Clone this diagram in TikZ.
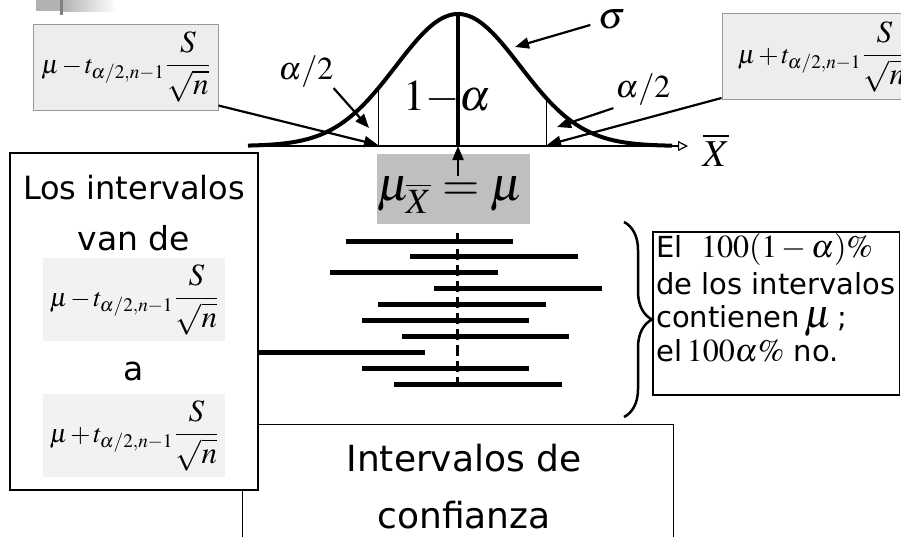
\documentclass[tikz,border=0pt]{standalone}
\usepackage{mathptmx}
\usepackage{fontspec}
\setsansfont{DejaVu Sans}
\usetikzlibrary{arrows.meta,decorations.pathreplacing,calc}
\newcommand\fsz[1]{\fontsize{#1}{#1}\selectfont}
\newcommand\lowform{{\fsz{26}\medmuskip=2mu$\mu-t_{\alpha/2,n-1}$}\,{\fsz{31}$\displaystyle\frac{S}{\sqrt{n}}$}}
\newcommand\uppform{{\fsz{26}\medmuskip=2mu$\mu+t_{\alpha/2,n-1}$}\,{\fsz{31}$\displaystyle\frac{S}{\sqrt{n}}$}}
\begin{document}
\begin{tikzpicture}[x=1pt,y=-1pt,
  curvestyle/.style={line width=4pt},
  arr/.style={line width=2.2pt,-{Triangle[length=14pt,width=11pt]}},
  fbox/.style={draw=black!40,fill=black!7,line width=1pt,minimum width=185pt,minimum height=86pt,inner sep=0pt},
  ibox/.style={fill=black!5,minimum width=182pt,minimum height=83pt,inner sep=0pt},
  bar/.style={line width=5pt},
  txt/.style={font=\sffamily, inner sep=0pt},
  plainbox/.style={draw=black,line width=1.3pt,fill=white},
  mlabel/.style={inner sep=0pt},
]
\useasboundingbox (0,0) rectangle (901,536);
\clip (0,0) rectangle (901,536);
% top-left decoration
\fill[black!30] (36,0) rectangle (62,11);
\shade[left color=black!30,right color=white] (62,0) rectangle (116,11);
\fill[black!50] (60,0) rectangle (63,15);

% bottom box
\node[plainbox,minimum width=431pt,minimum height=130pt,anchor=north west] (bot) at (242,424) {};
\node[txt,anchor=base,font=\sffamily\fsz{36}] (bt1) at (464,471) {Intervalos de};
\node[txt,anchor=base,font=\sffamily\fsz{36}] (bt2) at (464,528) {confianza};

% axis and bell curve
\draw[line width=1.2pt,-{Triangle[open,length=10pt,width=10pt]}] (250,146) -- (688,146);
\draw[line width=1pt] (378,146) -- (378,{146-132*exp(-0.5*((378-458)/62)^2)});
\draw[line width=1pt] (546,146) -- (546,{146-132*exp(-0.5*((546-458)/62)^2)});
\draw[curvestyle] plot[domain=248:672,samples=150,smooth] (\x,{146-132*exp(-0.5*((\x-458)/62)^2)});
\draw[line width=4pt] (458,14) -- (458,146);

% labels on the curve
\node[mlabel,font=\fsz{44}] (oneminus) at (447,98) {$1{-}\alpha$};
\node[mlabel,font=\fsz{32}] (la) at (306,72) {$\alpha/2$};
\node[mlabel,font=\fsz{32}] (ra) at (643,90) {$\alpha/2$};
\node[mlabel,font=\fsz{38}] (sg) at (612,20) {$\sigma$};
\node[mlabel,font=\fsz{38}] (xb) at (716,150) {$\overline{X}$};

% formula boxes
\node[fbox] (tl) at (125.5,67) {\lowform};
\node[fbox,minimum width=200pt] (tr) at (822,56.5) {\uppform};

% targets
\coordinate (lt1) at (369,128);
\coordinate (lt2) at (378,145);
\coordinate (rt1) at (557,127);
\coordinate (rt2) at (547,145);
\coordinate (st) at (515,47);
\coordinate (mustart) at (458,176);
\coordinate (mutip) at (458,146);

% mu box
\node[fill=black!25,minimum width=153pt,minimum height=70pt,inner sep=0pt] (mubox) at (453.5,189) {};
\node[mlabel,font=\fsz{48},anchor=base] (mutext) at (450,200) {$\mu_{\overline{X}}=\mu$};

% arrows
\draw[arr] (la.south east) -- (lt1);
\draw[arr] ($(tl.south east)+(0,-5)$) -- (lt2);
\draw[arr] ($(ra.south west)+(-2,2)$) -- (rt1);
\draw[arr] ($(tr.south west)+(0,-2)$) -- (rt2);
\draw[arr] ($(sg.south west)+(-8,-5)$) -- (st);
\draw[arr] (mustart) -- (mutip);

% intervals
\draw[line width=3pt,dash pattern=on 11pt off 5pt] (457.5,233) -- (457.5,384);
\draw[bar] (346,241) -- (513,241);
\draw[bar] (410,256) -- (578,256);
\draw[bar] (330,272) -- (498,272);
\draw[bar] (434,288) -- (602,288);
\draw[bar] (378,304) -- (546,304);
\draw[bar] (362,320) -- (529,320);
\draw[bar] (402,336) -- (569,336);
\draw[bar] (257,352) -- (425,352);
\draw[bar] (362,368) -- (529,368);
\draw[bar] (394,384) -- (562,384);

% brace
\draw[line width=2.5pt,decorate,decoration={brace,amplitude=28pt,aspect=0.5}] (624,222) -- (624,417);

% right text box
\draw[line width=1.3pt] (653,232) rectangle (899.5,395);
\node[txt,anchor=base west,font=\sffamily\fsz{29}] (r1) at (656,257) {El\ \ {\fsz{32}$100(1-\alpha)\%$}};
\node[txt,anchor=base west,font=\sffamily\fsz{29}] (r2) at (656,294) {de los intervalos};
\node[txt,anchor=base west,font=\sffamily\fsz{29}] (r3) at (656,327) {contienen\,{\fsz{40}$\mu$}\,;};
\node[txt,anchor=base west,font=\sffamily\fsz{29}] (r4) at (656,361) {el\,{\fsz{32}$100\alpha\%$} no.};

% left box
\node[plainbox,minimum width=248pt,minimum height=337pt,inner sep=0pt] (lb) at (134,321.5) {};
\node[txt,anchor=base,font=\sffamily\fsz{32}] (l1) at (134,199) {Los intervalos};
\node[txt,anchor=base,font=\sffamily\fsz{33}] (l2) at (134,250) {van de};
\node[ibox] (lf1) at (134,299.5) {\lowform};
\node[txt,anchor=base,font=\sffamily\fsz{33}] (l3) at (134,380) {a};
\node[ibox] (lf2) at (134,435.5) {\uppform};
\end{tikzpicture}
\end{document}
